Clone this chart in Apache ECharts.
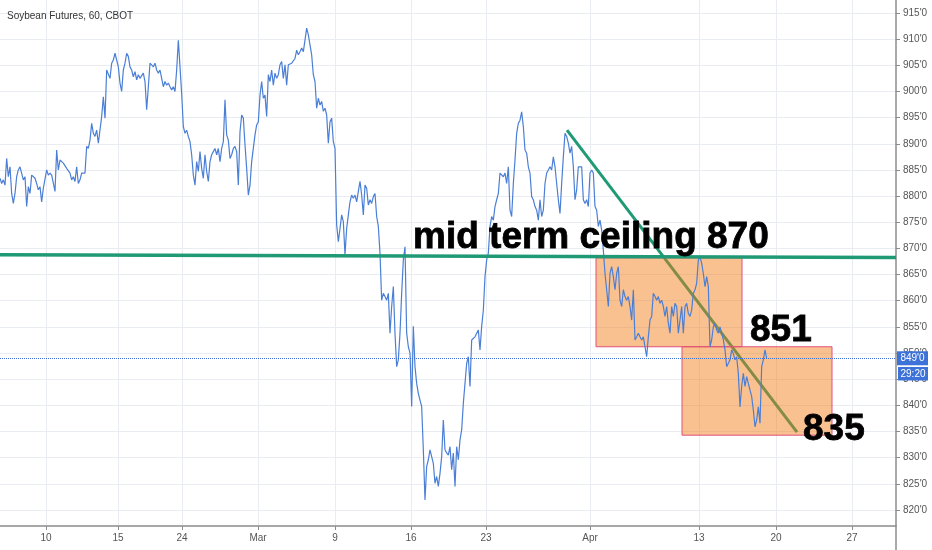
<!DOCTYPE html>
<html>
<head>
<meta charset="utf-8">
<script src="https://cdn.jsdelivr.net/npm/echarts@6/dist/echarts.min.js"></script>
<style>
html,body{margin:0;padding:0;background:#fff;}
#chart{width:932px;height:550px;}
</style>
</head>
<body>
<div id="chart"></div>
<script>
// ---- data (x = sample index along the compressed trading-time axis) ----
const titleText = 'Soybean Futures, 60, CBOT';
const tickPos = [27.6, 70.8, 109.2, 154.8, 201, 246.6, 291.6, 354, 419.4, 465.6, 511.2];
const tickLabels = ['10', '15', '24', 'Mar', '9', '16', '23', 'Apr', '13', '20', '27'];
const yTicks = [820, 825, 830, 835, 840, 845, 850, 855, 860, 865, 870, 875, 880, 885, 890, 895, 900, 905, 910, 915];
const xMax = 537.6;
const yMin = 816.94;
const yMax = 917.48;

const priceFeb = [
883.4,882.4,883.1,882.1,887.2,883.7,885.6,880.5,878.6,880.5,
883.7,885.0,885.6,885.9,883.1,883.7,878.0,881.8,880.5,884.0,
883.7,883.4,882.4,881.2,881.8,878.9,881.5,881.2,885.0,884.0,
884.4,884.0,883.7,880.9,888.8,885.0,886.9,886.6,886.3,886.3,
885.3,885.6,884.4,883.1,883.7,882.8,885.6,882.4,883.1,884.4,
884.4,884.4,889.5,889.1,890.7,893.9,892.0,891.4,892.6,890.1,
889.8,895.2,899.0,894.9,904.1,904.4,902.5,905.4,906.0,907.3,
907.6,904.7,901.6,900.0,904.1,905.4,907.3,906.7,904.7,904.1,
902.8,903.8,902.2,903.2,902.5,902.2,903.5,901.9,896.5,900.9,
905.4,905.1,904.7,905.4,904.1,903.5,904.1,902.5,900.9,901.9,
901.2,901.6,900.9,900.3,900.9,900.0,904.1,909.8,904.7,899.6,
893.3,892.0,892.6,891.4
];
const priceLateFeb = [
890.4,887.9,884.0,882.1,886.6,884.7,888.5,885.3,883.4,887.9,
884.7,882.8,886.6,887.9,888.5,889.1,887.9,889.1,886.6,889.1,
890.4,898.4,891.7,890.7,887.2,887.9,889.1,889.5,888.5,882.1,
892.3,895.5,894.9,889.8,885.3,880.2,882.1,886.6,886.6,891.7,
893.6,894.2,899.3,901.9,898.7,899.3,895.2,903.2,901.9,904.1,
901.2,903.5,902.5,903.2,905.1,905.7,902.5,905.1,901.2,905.1,
905.1,905.4,905.1,906.3,907.9,907.0,907.6,908.3,907.6,909.8,
912.1,910.8,908.9,907.0,903.2,901.9,896.8,898.7,897.4,898.1,
896.2,896.8,895.5,890.1,894.2,894.9,890.4,889.1,874.5,871.3,
873.8,876.4,875.1,868.8,873.8,876.4,878.9,880.2,879.6,880.2,
878.9,880.9,882.8,880.2,876.4,882.1,881.5,878.3
];
const priceMar = [
879.3,878.6,879.9,880.5,876.1,874.2,869.1,860.1,861.4,860.8,
860.1,861.4,853.8,858.9,862.7,853.8,847.4,848.7,853.8,861.4,
867.8,870.3,853.8,851.2,850.0,839.8,855.1,847.4,844.2,842.3,
841.0,839.8,831.5,821.9,828.3,829.6,831.5,831.5,828.9,825.1,
826.4,824.5,827.0,830.2,837.2,831.5,830.9,830.5,832.1,827.7,
830.9,824.5,832.1,829.6,833.4,835.3,840.4,844.2,848.0,849.3,
843.6,852.5,852.8,853.1,853.8,854.4,850.6,855.1,858.2,864.6,
867.8,869.1,874.2,876.1,875.4,878.0,879.3,880.5,884.4,884.7,
883.7,884.4,882.4,885.6,877.3,876.1,882.4,886.9,892.0,893.9,
894.5,896.1,893.3,888.8,888.2,885.6,884.4,879.9,879.3,878.0,
877.3,875.4,879.3,876.1,877.3,882.4,884.4,885.0,885.6,885.0,
887.5,885.6,882.4,879.3,876.7,882.4,887.5,892.0,891.4,890.1,
888.2,889.5,885.6,879.3,881.2,885.6,885.9,885.6,879.3,878.6,
879.3,878.0,884.4,885.0,884.4,878.0,877.3,874.2,875.4
];
const priceApr = [
873.5,869.7,865.2,862.1,858.9,865.2,866.5,864.6,862.1,865.2,
866.5,860.1,858.9,862.1,860.8,860.1,860.8,858.9,856.3,862.1,
852.5,853.1,853.8,853.1,852.5,853.1,851.2,849.3,853.1,856.3,
857.0,861.4,860.8,860.1,860.8,859.5,860.1,858.9,857.0,858.9,
855.7,853.8,858.9,857.0,859.5,858.9,853.8,856.3,858.9,853.8,
858.9,859.5,857.6,857.0,858.2,861.4,862.1,863.3,867.8,868.4,
867.2,865.2,862.7,864.6,862.7,851.2,852.5,855.0,855.7,854.4,
853.8,855.0,853.8,852.5,850.6,847.4,847.4,848.7,850.6,849.9,
848.7,849.3,846.1,839.7,843.6,846.1,843.6,845.5,844.2,842.9,
841.7,839.1,835.9,837.2,839.7,836.6,847.4,848.7,850.6,849.0
];
const lastPrice = 849;
const countdown = '29:20';

// drawn annotations (in data space)
const ceilX = [0, 537.6];
const ceilY = [868.8, 868.25];
const trendX = [340.2, 478.2];
const trendY = [892.6, 834.9];
const zoneX0 = [357.6, 409.2];
const zoneX1 = [445.2, 499.2];
const zoneTop = [868.2, 851.2];
const zoneBottom = [851.2, 834.3];
const noteText = ['mid term ceiling 870', '851', '835'];
const noteX = [247.8, 450, 481.8];
const noteY = [872.0, 854.2, 835.3];

// ---- build ----
const prices = priceFeb.concat(priceLateFeb, priceMar, priceApr);
const priceData = prices.map((p, i) => [i, p]);
const FONT = 'Liberation Sans, Arial, sans-serif';
const GREEN = '#1f9a75';
const AXIS = '#8c8c8c';
const GRID = '#E9ECF1';

const chart = echarts.init(document.getElementById('chart'), null, {renderer: 'canvas'});

function nearestLabel(v) {
  let best = 0, bd = Infinity;
  tickPos.forEach((t, i) => { const d = Math.abs(t - v); if (d < bd) { bd = d; best = i; } });
  return tickLabels[best];
}

const option = {
  animation: false,
  backgroundColor: '#ffffff',
  title: {
    text: titleText, left: 7, top: 11, padding: 0,
    textStyle: {fontSize: 10, fontWeight: 'normal', color: '#333', fontFamily: FONT}
  },
  grid: {left: 0, right: 36, top: 0, bottom: 24, containLabel: false, outerBoundsMode: 'none'},
  xAxis: {
    type: 'value', min: 0, max: xMax,
    axisLine: {show: true, onZero: false, lineStyle: {color: AXIS, width: 1.5}},
    axisTick: {show: true, customValues: tickPos, length: 4, lineStyle: {color: AXIS}},
    axisLabel: {customValues: tickPos, formatter: v => nearestLabel(v), color: '#555', fontSize: 10, margin: 7, fontFamily: FONT},
    splitLine: {show: true, lineStyle: {color: GRID, width: 1}}
  },
  yAxis: {
    type: 'value', position: 'right', min: yMin, max: yMax,
    axisLine: {show: true, onZero: false, lineStyle: {color: AXIS, width: 1.5}},
    axisTick: {show: true, customValues: yTicks, length: 4, lineStyle: {color: AXIS}},
    axisLabel: {customValues: yTicks, formatter: v => v + "'0", color: '#555', fontSize: 10, margin: 7, fontFamily: FONT},
    splitLine: {show: true, lineStyle: {color: GRID, width: 1}}
  },
  series: [
    {
      name: 'trend', type: 'line', z: 2, symbol: 'none', silent: true,
      data: trendX.map((x, i) => [x, trendY[i]]),
      lineStyle: {color: GREEN, width: 3}
    },
    {
      name: 'zones', type: 'custom', z: 3, silent: true,
      encode: {x: [0, 1], y: [2, 3]},
      data: zoneX0.map((x, i) => [x, zoneX1[i], zoneTop[i], zoneBottom[i]]),
      renderItem: function (params, api) {
        const p0 = api.coord([api.value(0), api.value(2)]);
        const p1 = api.coord([api.value(1), api.value(3)]);
        return {
          type: 'rect',
          shape: {x: p0[0], y: p0[1], width: p1[0] - p0[0], height: p1[1] - p0[1]},
          style: {fill: 'rgba(245,124,20,0.47)', stroke: '#E0507A', lineWidth: 1}
        };
      }
    },
    {
      name: 'price', type: 'line', z: 4, symbol: 'none', silent: true,
      data: priceData,
      lineStyle: {color: '#4b7fd6', width: 1.2},
      markLine: {
        silent: true, symbol: ['none', 'none'],
        label: {show: false},
        lineStyle: {type: 'dotted', color: '#3f6fd6', width: 1},
        data: [{yAxis: lastPrice}]
      }
    },
    {
      name: 'ceiling', type: 'line', z: 5, symbol: 'none', silent: true,
      data: ceilX.map((x, i) => [x, ceilY[i]]),
      lineStyle: {color: GREEN, width: 3.5}
    },
    {
      name: 'notes', type: 'scatter', z: 6, silent: true,
      symbolSize: 0.001,
      itemStyle: {opacity: 1},
      data: noteX.map((x, i) => ({value: [x, noteY[i]], label: {formatter: noteText[i]}})),
      label: {
        show: true, position: 'right', distance: 0, align: 'left', verticalAlign: 'middle',
        fontSize: 37, fontWeight: 'bold', color: '#000', opacity: 1,
        textBorderColor: '#000', textBorderWidth: 0.8, fontFamily: FONT
      }
    }
  ]
};
chart.setOption(option);

// last-price tags on the price scale
const py = chart.convertToPixel({yAxisIndex: 0}, lastPrice);
const ax = chart.convertToPixel({xAxisIndex: 0}, xMax);
const yb = chart.convertToPixel({yAxisIndex: 0}, yMin);
chart.setOption({
  graphic: [
    {type: 'line', z: 50, shape: {x1: ax, y1: yb, x2: ax, y2: 550}, style: {stroke: AXIS, lineWidth: 1.5}},
    {type: 'rect', z: 50, shape: {x: ax + 1, y: py - 7, width: 31, height: 14}, style: {fill: '#3d72d9'}},
    {type: 'text', z: 51, style: {x: ax + 16.5, y: py, text: lastPrice + "'0", fill: '#fff', fontSize: 10, fontFamily: FONT, align: 'center', verticalAlign: 'middle'}},
    {type: 'rect', z: 50, shape: {x: ax + 2, y: py + 8.7, width: 30, height: 13.5}, style: {fill: '#3d72d9'}},
    {type: 'text', z: 51, style: {x: ax + 17, y: py + 15.5, text: countdown, fill: '#fff', fontSize: 10, fontFamily: FONT, align: 'center', verticalAlign: 'middle'}}
  ]
});
</script>
</body>
</html>
